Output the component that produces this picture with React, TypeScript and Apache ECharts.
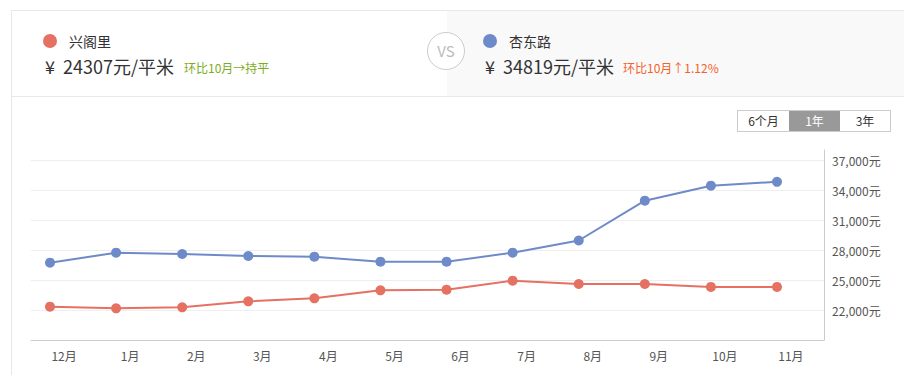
import React, { useEffect, useRef } from "react";
import * as echarts from "echarts";

const months = ["12月", "1月", "2月", "3月", "4月", "5月", "6月", "7月", "8月", "9月", "10月", "11月"];
const xingGeLi = [22330, 22170, 22270, 22870, 23170, 23970, 24030, 24930, 24600, 24600, 24307, 24307];
const xingDongLu = [26730, 27730, 27600, 27400, 27330, 26830, 26830, 27730, 28950, 32930, 34433, 34819];
const rangeButtons = ["6个月", "1年", "3年"];

const RED = "#e57163";
const BLUE = "#6e8ac9";
const FONT = '"Microsoft YaHei", "Noto Sans CJK SC", "Noto Sans", sans-serif';

export default function App() {
  const ref = useRef<HTMLDivElement>(null);
  useEffect(() => {
    if (!ref.current) return;
    const chart = echarts.init(ref.current, undefined, { renderer: "svg" });
    chart.setOption({
      animation: false,
      textStyle: { fontFamily: FONT },
      grid: { left: 31, right: 80, top: 150, bottom: 35, containLabel: false },
      xAxis: [
        {
          type: "category",
          data: months,
          boundaryGap: true,
          axisLine: { onZero: false, lineStyle: { color: "#cccccc" } },
          axisTick: { show: false },
          axisLabel: { color: "#555", fontSize: 12, margin: 9, fontFamily: FONT },
          splitLine: { show: false },
        },
        {
          type: "value",
          min: -0.2875,
          max: 11.711,
          show: false,
          splitLine: { show: false },
        },
      ],
      yAxis: {
        type: "value",
        position: "right",
        min: 19000,
        max: 38000,
        interval: 3000,
        axisLine: { show: true, onZero: false, lineStyle: { color: "#cccccc" } },
        axisTick: { show: false },
        axisLabel: {
          color: "#555",
          fontSize: 12,
          margin: 8,
          fontFamily: FONT,
          showMinLabel: false,
          showMaxLabel: false,
          formatter: (v: number) => v.toLocaleString("en-US") + "元",
        },
        splitLine: { show: true, showMinLine: false, showMaxLine: false, lineStyle: { color: "#eeeeee" } },
      },
      series: [
        {
          name: "兴阁里",
          type: "line",
          xAxisIndex: 1,
          data: xingGeLi.map((v, i) => [i, v]),
          symbol: "circle",
          symbolSize: 10,
          lineStyle: { color: RED, width: 2 },
          itemStyle: { color: RED },
        },
        {
          name: "杏东路",
          type: "line",
          xAxisIndex: 1,
          data: xingDongLu.map((v, i) => [i, v]),
          symbol: "circle",
          symbolSize: 10,
          lineStyle: { color: BLUE, width: 2 },
          itemStyle: { color: BLUE },
        },
      ],
    });
    return () => chart.dispose();
  }, []);

  const last = (a: number[]) => a[a.length - 1];

  return (
    <div style={{ position: "absolute", left: 0, top: 0, width: 904, height: 375, overflow: "hidden", background: "#fff", fontFamily: FONT }}>
      <div style={{ position: "absolute", left: 11, top: 10, width: 1000, height: 400, border: "1px solid #e8e8e8", boxSizing: "border-box" }} />
      <div style={{ position: "absolute", left: 447, top: 11, width: 460, height: 85, background: "#f9f9f9" }} />
      <div style={{ position: "absolute", left: 12, top: 96, width: 900, height: 1, background: "#e8e8e8" }} />
      <div ref={ref} style={{ position: "absolute", left: 0, top: 0, width: 904, height: 375 }} />
      {/* left header */}
      <div style={{ position: "absolute", left: 43, top: 34, width: 14, height: 14, borderRadius: 7, background: RED }} />
      <div style={{ position: "absolute", left: 69, top: 31, fontSize: 14, color: "#333", lineHeight: "20px" }}>兴阁里</div>
      <div style={{ position: "absolute", left: 45, top: 54, fontSize: 18, color: "#333", lineHeight: "24px", whiteSpace: "nowrap" }}>
        <span style={{ marginRight: 8 }}>¥</span>{last(xingGeLi)}元/平米
      </div>
      <div style={{ position: "absolute", left: 184, top: 60, fontSize: 12, color: "#7cad21", lineHeight: "16px", whiteSpace: "nowrap" }}>环比10月→持平</div>
      {/* VS */}
      <div style={{ position: "absolute", left: 427, top: 32, width: 36, height: 36, borderRadius: 19, border: "1px solid #cccccc", background: "#fff", color: "#bbb", fontSize: 15, lineHeight: "36px", textAlign: "center" }}>VS</div>
      {/* right header */}
      <div style={{ position: "absolute", left: 483, top: 34, width: 14, height: 14, borderRadius: 7, background: BLUE }} />
      <div style={{ position: "absolute", left: 509, top: 31, fontSize: 14, color: "#333", lineHeight: "20px" }}>杏东路</div>
      <div style={{ position: "absolute", left: 485, top: 54, fontSize: 18, color: "#333", lineHeight: "24px", whiteSpace: "nowrap" }}>
        <span style={{ marginRight: 8 }}>¥</span>{last(xingDongLu)}元/平米
      </div>
      <div style={{ position: "absolute", left: 623, top: 60, fontSize: 12, color: "#f5612d", lineHeight: "16px", whiteSpace: "nowrap" }}>环比10月↑1.12%</div>
      {/* range buttons */}
      <div style={{ position: "absolute", left: 737, top: 110, display: "flex", border: "1px solid #cccccc", height: 20 }}>
        {rangeButtons.map((b, i) => (
          <div
            key={b}
            style={{
              width: i === 2 ? 50 : 51,
              height: 20,
              lineHeight: "20px",
              textAlign: "center",
              fontSize: 12,
              background: i === 1 ? "#999999" : "#fff",
              color: i === 1 ? "#fff" : "#333",
            }}
          >
            {b}
          </div>
        ))}
      </div>
    </div>
  );
}
